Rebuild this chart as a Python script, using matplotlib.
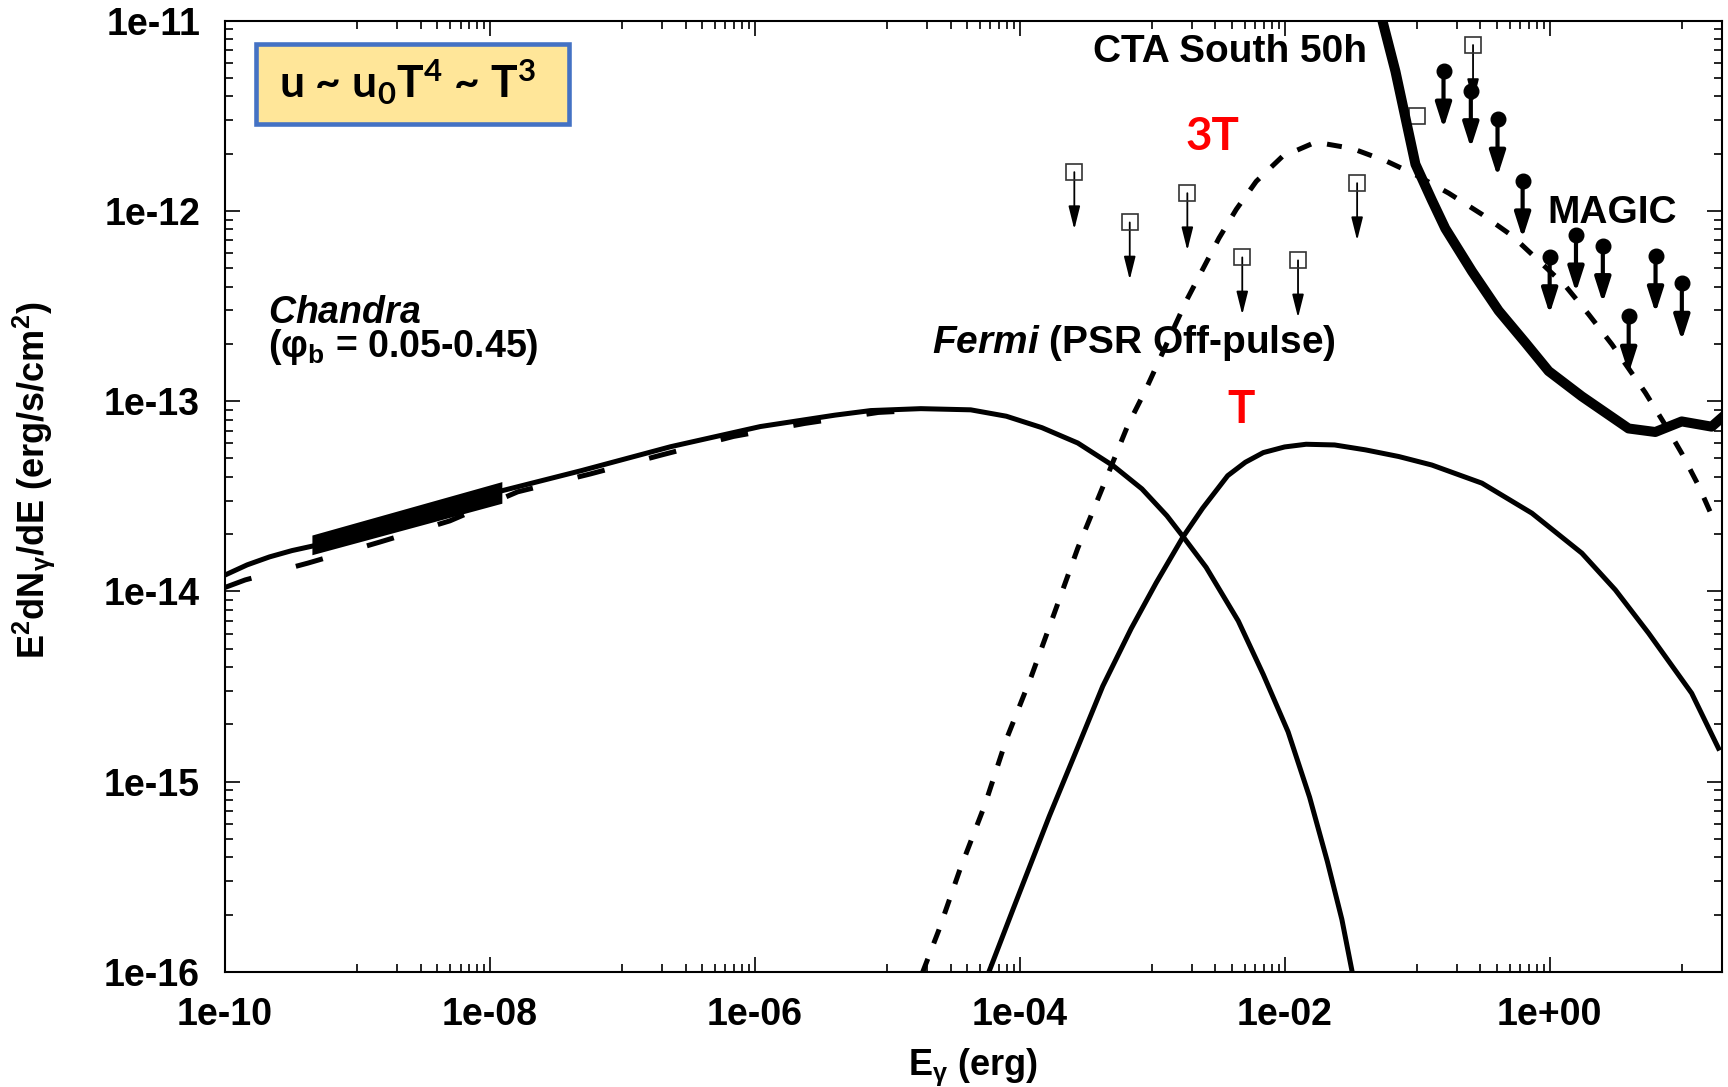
import numpy as np
import matplotlib
matplotlib.use("Agg")
import matplotlib.pyplot as plt
from matplotlib.patches import Rectangle
from matplotlib.ticker import FixedLocator, NullFormatter, LogLocator

plt.rcParams['font.family'] = ['Liberation Sans', 'DejaVu Sans']
plt.rcParams['font.weight'] = 'bold'
plt.rcParams['mathtext.default'] = 'regular'
plt.rcParams['mathtext.fontset'] = 'custom'
plt.rcParams['mathtext.rm'] = 'Liberation Sans:bold'
plt.rcParams['mathtext.bf'] = 'Liberation Sans:bold'
plt.rcParams['mathtext.it'] = 'Liberation Sans:italic:bold'

# synchrotron component (solid)
sync_E = [1.0e-10, 1.47e-10, 2.17e-10, 3.20e-10, 4.71e-10, 2.22e-9, 1.05e-8, 4.92e-8, 2.32e-7,
          1.10e-6, 4.03e-6, 7.50e-6, 1.79e-5, 4.26e-5, 7.91e-5, 1.47e-4, 2.74e-4, 5.09e-4,
          8.36e-4, 1.29e-3, 1.71e-3, 2.55e-3, 4.46e-3, 6.89e-3, 1.06e-2, 1.54e-2, 2.10e-2,
          2.70e-2, 3.24e-2]
sync_F = [1.22e-14, 1.38e-14, 1.52e-14, 1.64e-14, 1.74e-14, 2.29e-14, 3.29e-14, 4.32e-14, 5.77e-14,
          7.36e-14, 8.45e-14, 8.93e-14, 9.14e-14, 9.01e-14, 8.34e-14, 7.26e-14, 6.03e-14, 4.57e-14,
          3.46e-14, 2.50e-14, 1.94e-14, 1.34e-14, 7.0e-15, 3.66e-15, 1.83e-15, 8.3e-16, 3.8e-16,
          1.89e-16, 9.9e-17]

# synchrotron, long dashes
sync2_E = [1.0e-10, 1.42e-10, 4.23e-10, 1.48e-9, 4.98e-9, 1.62e-8, 5.75e-8, 1.98e-7,
           6.90e-7, 2.37e-6, 8.55e-6, 1.90e-5]
sync2_F = [1.05e-14, 1.15e-14, 1.41e-14, 1.82e-14, 2.35e-14, 3.34e-14, 4.15e-14, 5.22e-14,
           6.53e-14, 7.64e-14, 8.73e-14, 8.99e-14]

# IC component, T
icT_E = [5.81e-5, 8.97e-5, 1.67e-4, 2.74e-4, 4.23e-4, 6.93e-4, 1.07e-3, 1.71e-3, 2.40e-3,
         3.71e-3, 5.05e-3, 6.89e-3, 9.98e-3, 1.45e-2, 2.38e-2, 4.07e-2, 7.26e-2, 0.129, 0.308,
         0.734, 1.75, 3.13, 5.58, 11.8, 18.8]
icT_F = [9.9e-17, 2.17e-16, 6.59e-16, 1.52e-15, 3.18e-15, 6.38e-15, 1.11e-14, 1.94e-14, 2.74e-14,
         4.06e-14, 4.78e-14, 5.37e-14, 5.75e-14, 5.94e-14, 5.89e-14, 5.55e-14, 5.12e-14, 4.62e-14,
         3.71e-14, 2.58e-14, 1.59e-14, 1.02e-14, 6.04e-15, 2.92e-15, 1.50e-15]

# IC component, 3T (dashed)
ic3T_E = [1.84e-5, 2.44e-5, 3.53e-5, 5.46e-5, 7.89e-5, 1.22e-4, 1.82e-4, 2.74e-4, 4.23e-4,
          6.52e-4, 8.93e-4, 1.81e-3, 2.39e-3, 3.19e-3, 4.31e-3, 6.09e-3, 9.57e-3, 1.71e-2,
          3.23e-2, 5.93e-2, 9.70e-2, 0.173, 0.308, 0.520, 0.826, 1.31, 1.97, 2.95, 5.27,
          7.46, 9.95, 13.3, 17.3]
ic3T_F = [9.9e-17, 1.65e-16, 3.45e-16, 7.59e-16, 1.66e-15, 3.57e-15, 7.67e-15, 1.69e-14, 3.54e-14,
          7.43e-14, 1.15e-13, 3.38e-13, 4.90e-13, 7.20e-13, 1.02e-12, 1.43e-12, 1.93e-12, 2.30e-12,
          2.13e-12, 1.82e-12, 1.55e-12, 1.24e-12, 9.6e-13, 7.41e-13, 5.48e-13, 4.05e-13, 2.86e-13,
          1.99e-13, 1.11e-13, 7.5e-14, 5.31e-14, 3.6e-14, 2.38e-14]

# CTA South 50h sensitivity
cta_E = [0.0455, 0.0685, 0.0970, 0.129, 0.163, 0.259, 0.412, 0.656, 0.982, 1.75, 3.94,
         6.27, 9.93, 16.7, 19.9]
cta_F = [1.64e-11, 5.42e-12, 1.76e-12, 1.14e-12, 8.09e-13, 4.82e-13, 2.99e-13, 2.03e-13,
         1.44e-13, 1.06e-13, 7.19e-14, 6.89e-14, 7.83e-14, 7.35e-14, 8.18e-14]

# Chandra bowtie
chandra_E = [4.53e-10, 1.23e-8]
chandra_F_hi = [1.98e-14, 3.78e-14]
chandra_F_lo = [1.56e-14, 2.91e-14]

# Fermi upper limits
fermi_E = [2.58e-4, 6.76e-4, 1.84e-3, 4.78e-3, 1.26e-2, 3.52e-2, 0.100, 0.264]
fermi_F = [1.6e-12, 8.7e-13, 1.24e-12, 5.7e-13, 5.5e-13, 1.4e-12, 3.15e-12, 7.45e-12]
fermi_arrow = [True, True, True, True, True, True, False, True]

# MAGIC upper limits
magic_E = [0.158, 0.254, 0.404, 0.625, 1.0, 1.58, 2.52, 3.95, 6.3, 9.95]
magic_F = [5.44e-12, 4.29e-12, 3.04e-12, 1.44e-12, 5.75e-13, 7.48e-13, 6.58e-13, 2.8e-13,
           5.82e-13, 4.17e-13]

x_major = [1e-10, 1e-8, 1e-6, 1e-4, 1e-2, 1e0]
x_labels = ['1e-10', '1e-08', '1e-06', '1e-04', '1e-02', '1e+00']
y_major = [1e-16, 1e-15, 1e-14, 1e-13, 1e-12, 1e-11]
y_labels = ['1e-16', '1e-15', '1e-14', '1e-13', '1e-12', '1e-11']

fig = plt.figure(figsize=(17.28, 10.87), dpi=100)
ax = fig.add_axes([0.13021, 0.10580, 0.86632, 0.87516])
ax.set_xscale('log')
ax.set_yscale('log')

ax.plot(sync_E, sync_F, color='black', lw=3.6)
ax.plot(sync2_E, sync2_F, color='black', lw=3.6, dashes=(5.6, 9.2))
ax.fill_between(chandra_E, chandra_F_lo, chandra_F_hi, color='black', lw=0)
ax.plot(icT_E, icT_F, color='black', lw=3.6)
ax.plot(ic3T_E, ic3T_F, color='black', lw=3.6, dashes=(3.0, 3.3))
ax.plot(cta_E, cta_F, color='black', lw=7.2, zorder=4)

# upper limit arrows (down to half the flux)
for e, f, a in zip(fermi_E, fermi_F, fermi_arrow):
    if a:
        ax.annotate('', xy=(e, f * 0.5), xytext=(e, f),
                    arrowprops=dict(arrowstyle='-|>,head_length=1.4,head_width=0.35',
                                    lw=1.3, color='black', shrinkA=0, shrinkB=0,
                                    mutation_scale=10))
ax.plot(fermi_E, fermi_F, 's', ms=11.5, mfc='none', mec='#333333', mew=1.2, zorder=3)

for e, f in zip(magic_E, magic_F):
    ax.annotate('', xy=(e, f * 0.5), xytext=(e, f),
                arrowprops=dict(arrowstyle='-|>,head_length=1.5,head_width=0.48',
                                lw=3.0, color='black', shrinkA=0, shrinkB=0,
                                mutation_scale=10))
ax.plot(magic_E, magic_F, 'o', ms=10.5, color='black', zorder=3)

ax.set_xlim(1e-10, 20)
ax.set_ylim(1e-16, 1e-11)

ax.set_xticks(x_major)
ax.set_xticklabels(x_labels)
ax.set_yticks(y_major)
ax.set_yticklabels(y_labels)
x_minor = [k * 10.0 ** e for e in (-9, -7, -5, -3, -1, 1) for k in range(1, 10)]
ax.xaxis.set_minor_locator(FixedLocator(x_minor))
ax.xaxis.set_minor_formatter(NullFormatter())
ax.yaxis.set_minor_locator(LogLocator(base=10, subs=range(2, 10)))
ax.yaxis.set_minor_formatter(NullFormatter())
ax.tick_params(which='both', direction='in', top=True, right=True, width=1.2)
ax.tick_params(which='major', length=11)
ax.tick_params(which='minor', length=5.5)
ax.tick_params(axis='both', pad=18, labelsize=27)
for s in ax.spines.values():
    s.set_linewidth(1.5)

ax.set_xlabel(r'E$_\gamma$ (erg)', fontsize=26, fontweight='bold')
ax.xaxis.set_label_coords(0.5, -0.078)
ax.xaxis.label.set_va('top')
ax.set_ylabel(r'E$^2$dN$_\gamma$/dE (erg/s/cm$^2$)', fontsize=26, fontweight='bold')
ax.yaxis.set_label_coords(-0.112, 0.517)

# annotations
ax.add_patch(Rectangle((0.0207, 0.8914), 0.2091, 0.0841, transform=ax.transAxes,
                       fc='#FFE699', ec='#4472C4', lw=3.3, zorder=5))
ax.text(0.0361, 0.9184, r'u ~ u$_0$T$^4$ ~ T$^3$', transform=ax.transAxes,
        family='Lato', fontsize=32, fontweight='bold', va='baseline', zorder=6)
ax.text(0.7629, 0.9566, 'CTA South 50h', transform=ax.transAxes, fontsize=28,
        ha='right', va='baseline')
ax.text(0.8831, 0.7873, 'MAGIC', transform=ax.transAxes, fontsize=28, va='baseline')
ax.text(0.6413, 0.8641, '3T', transform=ax.transAxes, family='Lato', fontsize=33,
        fontweight='bold', color='red', va='baseline')
ax.text(0.6693, 0.5771, 'T', transform=ax.transAxes, family='Lato', fontsize=33,
        fontweight='bold', color='red', va='baseline')
ax.text(0.4723, 0.6507, r'$\mathit{Fermi}$ (PSR Off-pulse)', transform=ax.transAxes,
        fontsize=28, va='baseline')
ax.text(0.0287, 0.7116, '$\\mathit{Chandra}$\n(φ$_b$ = 0.05-0.45)', transform=ax.transAxes,
        fontsize=27, va='top', linespacing=0.85)

fig.savefig('out.png', dpi=100)
